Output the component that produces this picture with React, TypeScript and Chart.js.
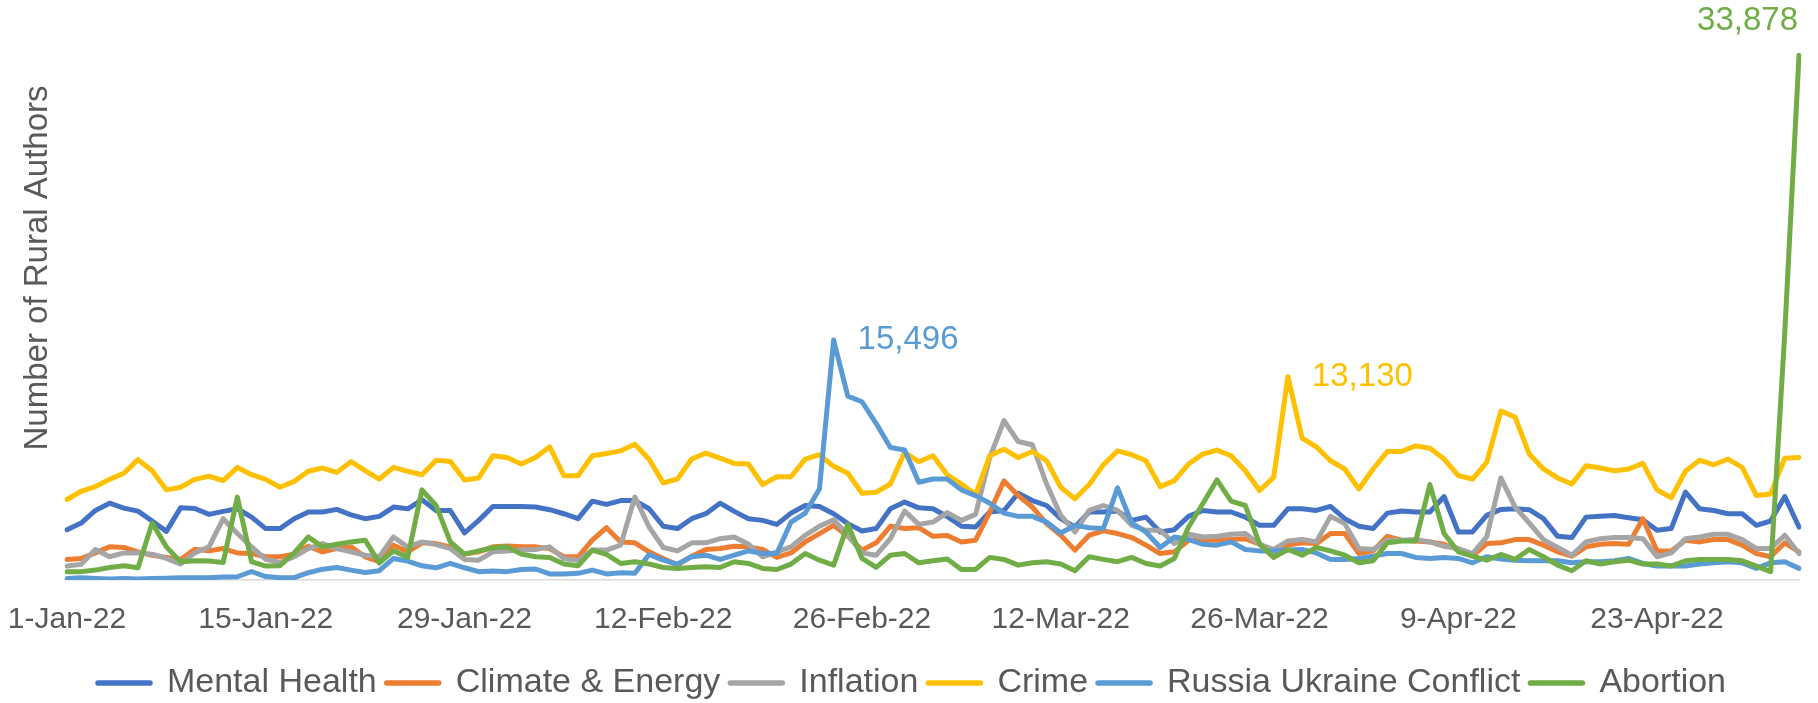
import React, { useEffect, useRef } from 'react';
import { Chart, registerables } from 'chart.js';

Chart.register(...registerables);

// ---------- DATA ----------
const MONTHS = ['Jan', 'Feb', 'Mar', 'Apr', 'May', 'Jun', 'Jul', 'Aug', 'Sep', 'Oct', 'Nov', 'Dec'];
const DAY_COUNT = 123; // 1-Jan-22 .. 3-May-22
const categories: string[] = Array.from({ length: DAY_COUNT }, (_, i) => {
  const d = new Date(2022, 0, 1 + i);
  return `${d.getDate()}-${MONTHS[d.getMonth()]}-22`;
});
const TICK_EVERY = 14;

const mentalHealth = [
  3250, 3680, 4490, 4960, 4640, 4450, 3810, 3140, 4660, 4620, 4240, 4430, 4600, 4060, 3320, 3320, 3960, 4390, 4390, 4560, 4210,
  3960, 4110, 4710, 4600, 5180, 4490, 4490, 3040, 3850, 4750, 4750, 4750, 4710, 4540, 4280, 3960, 5090, 4880, 5130, 5130, 4600,
  3470, 3320, 3960, 4280, 4960, 4430, 3960, 3850, 3590, 4320, 4810, 4750, 4280, 3640, 3170, 3320, 4600, 5030, 4660, 4600,
  4100, 3470, 3420, 4390, 4490, 5600, 5130, 4810, 3960, 3420, 4390, 4390, 4450, 3850, 4060, 3100, 3250, 4110, 4490, 4390,
  4390, 4060, 3530, 3530, 4600, 4600, 4490, 4750, 3960, 3470, 3320, 4320, 4450, 4390, 4390, 5390, 3100, 3100, 4170, 4560,
  4600, 4540, 3960, 2820, 2740, 4060, 4110, 4170, 4020, 3890, 3210, 3320, 5670, 4600, 4490, 4280, 4280, 3530, 3810, 5390, 3420,
];
const climateEnergy = [
  1330, 1390, 1750, 2140, 2100, 1820, 1600, 1460, 1330, 1990, 1880, 2030, 1750, 1710, 1500, 1500, 1670, 2180, 1820, 2030, 2140,
  1500, 1180, 2250, 1820, 2400, 2350, 2140, 1670, 1820, 2140, 2200, 2140, 2140, 2030, 1500, 1500, 2570, 3380, 2460, 2400, 1820,
  1390, 960, 1540, 1970, 2030, 2180, 2140, 1970, 1460, 1750, 2460, 3000, 3530, 2820, 1930, 2400, 3470, 3320, 3380, 2820,
  2880, 2460, 2570, 4390, 6400, 5450, 4710, 3640, 2890, 1930, 2890, 3170, 3000, 2740, 2250, 1710, 1820, 2570, 2610, 2570,
  2610, 2670, 2310, 1460, 2250, 2400, 2350, 3000, 3000, 1710, 1880, 2820, 2570, 2520, 2460, 2310, 1970, 1540, 2350, 2400,
  2610, 2610, 2250, 1820, 1540, 2140, 2310, 2350, 2310, 3960, 1880, 1880, 2570, 2460, 2610, 2610, 2250, 1710, 1500, 2400, 1820,
];
const inflation = [
  900, 1010, 1970, 1500, 1750, 1750, 1670, 1390, 1030, 1750, 2140, 3960, 3000, 2140, 1330, 1130, 1500, 2030, 2350, 2030, 1820,
  1600, 1500, 2780, 2140, 2460, 2290, 2030, 1330, 1280, 1820, 1880, 1930, 1970, 2140, 1390, 1280, 1930, 1930, 2250, 5350, 3420,
  2100, 1880, 2400, 2400, 2670, 2780, 2310, 1500, 1820, 2140, 2890, 3470, 3890, 2890, 1750, 1600, 2670, 4450, 3590, 3740,
  4350, 3850, 4240, 7910, 10290, 8940, 8730, 6200, 4170, 3100, 4490, 4810, 4490, 3530, 3210, 3210, 2350, 2950, 2780, 2820,
  2950, 3000, 2310, 1970, 2520, 2610, 2460, 4110, 3640, 2030, 1970, 2570, 2570, 2610, 2460, 2180, 2030, 1710, 2780, 6590,
  4710, 3680, 2610, 2100, 1600, 2460, 2670, 2740, 2740, 2670, 1500, 1750, 2670, 2780, 2950, 2950, 2610, 2030, 2030, 2890, 1710,
];
const crime = [
  5200, 5730, 6030, 6500, 6890, 7770, 7060, 5820, 5990, 6500, 6700, 6420, 7270, 6800, 6500, 5990, 6370, 7020, 7230, 6950, 7640,
  7060, 6520, 7270, 7020, 6800, 7740, 7660, 6460, 6590, 8020, 7910, 7490, 7910, 8600, 6740, 6740, 8020, 8170, 8340, 8770, 7800,
  6270, 6520, 7810, 8190, 7870, 7530, 7490, 6160, 6670, 6670, 7810, 8090, 7340, 6890, 5600, 5670, 6200, 8240, 7640, 8020,
  6790, 6200, 5520, 8020, 8450, 7910, 8300, 7700, 5990, 5240, 6160, 7440, 8340, 8090, 7700, 6030, 6420, 7490, 8130, 8390,
  8020, 7060, 5780, 6630, 13130, 9160, 8600, 7700, 7170, 5880, 7170, 8300, 8300, 8660, 8510, 7810, 6740, 6520, 7590, 10910,
  10520, 8130, 7170, 6590, 6200, 7380, 7230, 7060, 7170, 7530, 5820, 5310, 7020, 7740, 7440, 7810, 7270, 5450, 5560, 7870, 7910,
];
const russiaUkraine = [
  100, 150, 100, 60, 100, 60, 100, 120, 150, 150, 150, 200, 210, 550, 220, 150, 150, 470, 700, 810, 640,
  490, 600, 1390, 1220, 920, 790, 1070, 790, 540, 580, 540, 680, 710, 390, 390, 430, 640, 390, 470, 430, 1650,
  1280, 1030, 1500, 1600, 1330, 1600, 1880, 1710, 1710, 3740, 4320, 5880, 15496, 11870, 11510, 10100, 8560, 8390, 6310, 6520,
  6520, 5820, 5450, 4960, 4320, 4110, 4110, 3740, 3040, 3530, 3380, 3320, 5950, 3680, 3100, 2100, 2780, 2610, 2310, 2250,
  2460, 1970, 1880, 1880, 1930, 1970, 1750, 1330, 1330, 1390, 1540, 1710, 1710, 1460, 1390, 1460, 1390, 1110, 1500, 1360,
  1280, 1240, 1240, 1240, 1110, 1180, 1180, 1240, 1390, 1070, 900, 900, 900, 1030, 1110, 1180, 1110, 750, 1110, 1180, 750,
];
const abortion = [
  540, 540, 640, 810, 920, 790, 3680, 2140, 1180, 1240, 1220, 1130, 5350, 1180, 900, 920, 1750, 2780, 2140, 2310, 2460,
  2570, 1110, 1880, 1460, 5820, 4810, 2460, 1670, 1880, 2080, 2140, 1670, 1500, 1460, 1030, 920, 1930, 1650, 1070, 1180, 1030,
  810, 750, 810, 860, 810, 1180, 1070, 750, 680, 1030, 1710, 1280, 960, 3590, 1390, 810, 1600, 1710, 1110, 1240,
  1350, 680, 680, 1460, 1330, 960, 1110, 1180, 1030, 600, 1500, 1330, 1180, 1460, 1070, 900, 1390, 3420, 4920, 6460,
  5090, 4810, 2350, 1460, 1970, 1600, 2100, 1880, 1600, 1110, 1240, 2400, 2520, 2520, 6160, 3000, 1820, 1540, 1280, 1650,
  1330, 1970, 1500, 960, 600, 1240, 1030, 1180, 1280, 1030, 1030, 900, 1240, 1330, 1330, 1330, 1240, 900, 540, 16000, 33878,
];

const seriesNames = ['Mental Health', 'Climate & Energy', 'Inflation', 'Crime', 'Russia Ukraine Conflict', 'Abortion'];
const seriesValues = [mentalHealth, climateEnergy, inflation, crime, russiaUkraine, abortion];
const seriesColors = ['#4472C4', '#ED7D31', '#A5A5A5', '#FFC000', '#5B9BD5', '#70AD47'];
const Y_TITLE = 'Number of Rural Authors';

// ---------- STYLE ----------
const FONT = '"Liberation Sans", Arial, sans-serif';
const TEXT_GREY = '#595959';
const TARGET = { top: 38, bottom: 580, right: 1799, left: 67 };

const yTitlePlugin = {
  id: 'yTitle',
  afterDraw(chart: any, _a: any, opts: any) {
    const ctx = chart.ctx;
    ctx.save();
    ctx.translate(opts.x, opts.y);
    ctx.rotate(-Math.PI / 2);
    ctx.font = `${opts.size}px ${FONT}`;
    ctx.fillStyle = opts.color;
    ctx.textAlign = 'center';
    ctx.textBaseline = 'middle';
    ctx.fillText(opts.text, 0, 0);
    ctx.restore();
  },
};

const peakLabelPlugin = {
  id: 'peakLabels',
  afterDatasetsDraw(chart: any, _a: any, opts: any) {
    const ctx = chart.ctx;
    (opts.items || []).forEach((item: any) => {
      const ds = chart.data.datasets[item.dataset];
      const vals = ds.data as number[];
      let idx = 0;
      vals.forEach((v, i) => { if (v > vals[idx]) idx = i; });
      const pt = chart.getDatasetMeta(item.dataset).data[idx];
      ctx.save();
      ctx.font = `${opts.size}px ${FONT}`;
      ctx.fillStyle = ds.borderColor;
      ctx.textAlign = item.align;
      ctx.textBaseline = 'middle';
      ctx.fillText(vals[idx].toLocaleString('en-US'), pt.x + item.dx, pt.y + item.dy);
      ctx.restore();
    });
  },
};

const legendPlacePlugin = {
  id: 'legendPlace',
  afterLayout(chart: any, _a: any, opts: any) {
    const lg = chart.legend;
    if (!lg) return;
    const w = lg.right - lg.left;
    const h = lg.bottom - lg.top;
    const pad = lg.options.labels.padding;
    const fs = lg.options.labels.font.size;
    lg.left = opts.centerX - w / 2;
    lg.right = lg.left + w;
    lg.top = opts.centerY - pad - fs / 2;
    lg.bottom = lg.top + h;
  },
};

export default function App() {
  const ref = useRef<HTMLCanvasElement | null>(null);

  useEffect(() => {
    if (!ref.current) return;
    Chart.defaults.font.family = FONT;
    const padding = { top: TARGET.top, right: 1818 - TARGET.right, bottom: 10, left: 0 };
    const n = seriesNames.length;
    const chart = new Chart(ref.current, {
      type: 'line',
      data: {
        labels: categories,
        datasets: seriesNames.map((name, i) => ({
          label: name,
          data: seriesValues[i],
          borderColor: seriesColors[i],
          backgroundColor: seriesColors[i],
          borderWidth: 5,
          pointRadius: 0,
          pointHoverRadius: 0,
          tension: 0,
          borderJoinStyle: 'round' as const,
          borderCapStyle: 'round' as const,
          order: n - i,
        })),
      },
      options: {
        animation: false,
        responsive: true,
        maintainAspectRatio: false,
        devicePixelRatio: 1,
        events: [],
        layout: { padding },
        scales: {
          x: {
            grid: { display: false, drawTicks: true, tickLength: 19 },
            border: { display: true, color: '#D9D9D9', width: 1.5 },
            ticks: {
              autoSkip: false,
              maxRotation: 0,
              minRotation: 0,
              padding: 3,
              color: TEXT_GREY,
              font: { size: 30, family: FONT },
              callback: function (this: any, value: any, index: number) {
                return index % TICK_EVERY === 0 ? this.getLabelForValue(value) : null;
              },
            },
          },
          y: {
            min: 0,
            max: 35000,
            ticks: { display: false },
            grid: { display: false, drawTicks: false },
            border: { display: false },
            afterFit: (scale: any) => { scale.width = TARGET.left; },
          },
        },
        plugins: {
          tooltip: { enabled: false },
          legend: {
            display: true,
            position: 'bottom',
            labels: {
              usePointStyle: true,
              pointStyle: 'line',
              pointStyleWidth: 52,
              padding: 10,
              color: TEXT_GREY,
              font: { size: 34, family: FONT },
              sort: (a: any, b: any) => a.datasetIndex - b.datasetIndex,
              generateLabels: (c: any) =>
                Chart.defaults.plugins.legend.labels.generateLabels(c).map((it: any) => ({
                  ...it,
                  lineWidth: 5.5,
                  lineCap: 'round',
                })),
            },
          },
          legendPlace: { centerX: 912, centerY: 683 },
          yTitle: { text: Y_TITLE, x: 38, y: 268, size: 33, color: TEXT_GREY },
          peakLabels: {
            size: 33,
            items: [
              { dataset: 4, align: 'left', dx: 24, dy: 0 },
              { dataset: 3, align: 'left', dx: 24, dy: 0 },
              { dataset: 5, align: 'right', dx: -1, dy: -34 },
            ],
          },
        } as any,
      },
      plugins: [yTitlePlugin, peakLabelPlugin, legendPlacePlugin],
    } as any);

    for (let k = 0; k < 5; k++) {
      const ca = chart.chartArea;
      const dt = TARGET.top - ca.top;
      const db = ca.bottom - TARGET.bottom;
      const dr = ca.right - TARGET.right;
      if (Math.abs(dt) + Math.abs(db) + Math.abs(dr) < 0.3) break;
      const p = (chart.config.options as any).layout.padding;
      p.top += dt;
      p.bottom += db;
      p.right += dr;
      chart.update();
    }

    return () => chart.destroy();
  }, []);

  return (
    <div style={{ position: 'absolute', left: 0, top: 0, width: 1818, height: 703, background: '#fff' }}>
      <canvas ref={ref} />
    </div>
  );
}
